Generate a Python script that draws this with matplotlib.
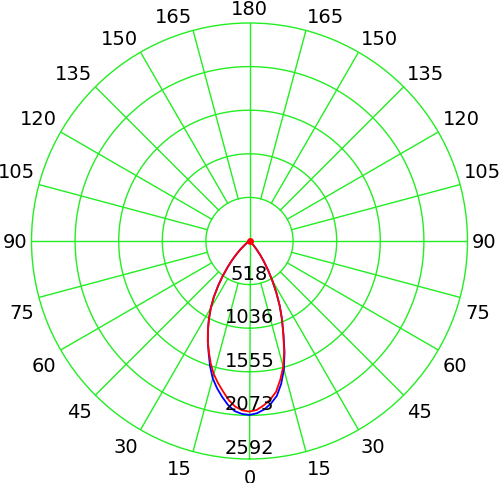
import numpy as np
import matplotlib
matplotlib.use('Agg')
import matplotlib.pyplot as plt

# luminous intensity (cd) every 2.5 deg, 0 = straight down
angles = np.arange(0, 180.1, 2.5)
blue_left = [2068, 2058, 2030, 1965, 1880, 1790, 1690, 1560, 1420, 1295, 1170, 1045,
             920, 790, 650, 520, 400, 300, 210, 140, 80, 45, 20, 8] + [0] * 49
blue_right = [2068, 2050, 2010, 1950, 1870, 1740, 1580, 1385, 1180, 1010, 850, 690,
              540, 410, 300, 210, 130, 80, 40, 15] + [0] * 53
red_left = [2029, 2015, 1975, 1905, 1815, 1730, 1640, 1530, 1410, 1295, 1170, 1045,
            920, 790, 650, 520, 400, 300, 210, 140, 80, 45, 20, 8] + [0] * 49
red_right = [2029, 2010, 1960, 1900, 1820, 1690, 1550, 1370, 1175, 1010, 850, 690,
             540, 410, 300, 210, 130, 80, 40, 15] + [0] * 53

ring_values = [518.4, 1036.8, 1555.2, 2073.6, 2592.0]
ring_labels = ['518', '1036', '1555', '2073', '2592']
angle_ticks = list(range(0, 181, 15))

rmax = ring_values[-1]
grid_col = '#22ee22'
fs = 14

fig = plt.figure(figsize=(5, 4.83), dpi=100)
ax = fig.add_axes([0.063, 0.0497, 0.872, 0.9027], projection='polar')
ax.set_theta_zero_location('S')
ax.set_theta_direction(-1)
ax.set_ylim(0, rmax)
ax.grid(False)
ax.set_xticks([])
ax.set_yticks([])
ax.spines['polar'].set_color(grid_col)
ax.spines['polar'].set_linewidth(1.0)

# rings
tt = np.linspace(0, 2 * np.pi, 721)
for rv in ring_values[:-1]:
    ax.plot(tt, np.full_like(tt, rv), color=grid_col, lw=1.0)

# spokes, only the axes go through the centre
for a in range(0, 360, 15):
    r0 = 0 if a % 90 == 0 else ring_values[0]
    ax.plot([np.radians(a)] * 2, [r0, rmax], color=grid_col, lw=1.0)

# ring labels along the 0 direction
for rv, lab in zip(ring_values, ring_labels):
    ax.annotate(lab, (0, rv), xytext=(0, 5), textcoords='offset pixels',
                ha='center', va='baseline', fontsize=fs)

# angle labels on both sides
for a in angle_ticks:
    s = np.sin(np.radians(a))
    c = np.cos(np.radians(a))
    for side in ([1, -1] if 0 < a < 180 else [1]):
        th = np.radians(a) * side
        if a == 0:
            ha, va, dx, dy = 'center', 'top', 0, -10
        elif a == 180:
            ha, va, dx, dy = 'center', 'bottom', 0, 4
        elif a == 90:
            ha, va, dx, dy = ('right' if side == 1 else 'left'), 'center_baseline', -4.5 * side, 0
        else:
            ha = 'right' if side == 1 else 'left'
            dx = -(3.5 if a == 105 else 5.0 * s) * side
            if a > 90:
                va, dy = 'bottom', 3
            else:
                va, dy = 'top', -(6 + 3 * c)
        ax.annotate(str(a), (th, rmax), xytext=(dx, dy), textcoords='offset pixels',
                    ha=ha, va=va, fontsize=fs, annotation_clip=False)

# curves
th_l = np.radians(angles)
th_r = -np.radians(angles)
theta_all = np.concatenate([th_r[::-1], th_l[1:]])
ax.plot(theta_all, blue_right[::-1] + blue_left[1:], color='#0000ff', lw=1.3)
ax.plot(theta_all, red_right[::-1] + red_left[1:], color='#ff0000', lw=1.3)
ax.plot([0], [0], 'o', color='#ff0000', ms=4)

fig.savefig('out.png', dpi=100)
